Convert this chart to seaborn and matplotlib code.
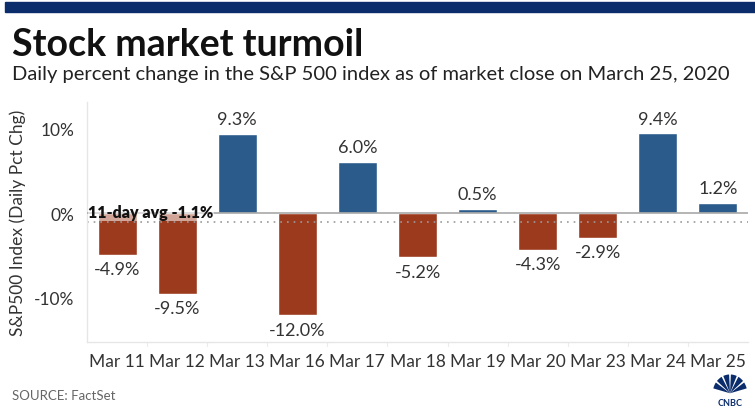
import matplotlib
matplotlib.use("Agg")
import matplotlib.pyplot as plt
import seaborn as sns
import pandas as pd
import numpy as np
from matplotlib.patches import Wedge, Rectangle

dates = ["Mar 11", "Mar 12", "Mar 13", "Mar 16", "Mar 17", "Mar 18",
         "Mar 19", "Mar 20", "Mar 23", "Mar 24", "Mar 25"]
changes = [-4.9, -9.5, 9.3, -12.0, 6.0, -5.2, 0.5, -4.3, -2.9, 9.4, 1.2]
avg_change = -1.1
y_ticks = [-10, 0, 10]
y_tick_labels = ["-10%", "0%", "10%"]

BLUE = "#2b5b8b"
RED = "#9c3a1e"
NAVY = "#0b2d6c"
TEXT = "#333333"

sns.set_theme(style="white")
plt.rcParams["font.family"] = ["Lato", "DejaVu Sans"]

df = pd.DataFrame({"date": dates, "change": changes})
df["sign"] = np.where(df["change"] >= 0, "up", "down")

fig = plt.figure(figsize=(7.55, 4.10), dpi=100)
ax = fig.add_axes([87 / 755, 1 - 343 / 410, (748 - 87) / 755, (343 - 103) / 410])

sns.barplot(data=df, x="date", y="change", hue="sign",
            palette={"up": BLUE, "down": RED}, dodge=False,
            width=0.65, legend=False, ax=ax, saturation=1)

ax.set_ylim(-15.2, 13.1)
ax.set_xlim(-0.5, len(dates) - 0.5)
ax.axhline(0, color="#a8a8a8", lw=1.2, zorder=3)
ax.axhline(avg_change, color="#9a9a9a", lw=1.2, ls=(0, (1, 3)), zorder=1)

for i, v in enumerate(changes):
    if v >= 0:
        ax.text(i, v + 0.8, f"{v:.1f}%", ha="center", va="bottom",
                fontsize=13, color=TEXT)
    else:
        ax.text(i, v - 0.8, f"{v:.1f}%", ha="center", va="top",
                fontsize=13, color=TEXT)

ax.text(-0.48, 0.1, f"11-day avg {avg_change:.1f}%", ha="left", va="center",
        fontsize=11.5, fontweight="heavy", color="#111111", zorder=5,
        bbox=dict(facecolor="white", alpha=0.55, edgecolor="none", pad=0.5))

ax.set_yticks(y_ticks)
ax.set_yticklabels(y_tick_labels, fontsize=12.5, color=TEXT)
ax.tick_params(axis="x", labelsize=12.5, labelcolor=TEXT, length=0, pad=8)
ax.tick_params(axis="y", length=0, pad=9)
ax.set_xlabel("")
ax.set_ylabel("S&P500 Index (Daily Pct Chg)", fontsize=12.5, color=TEXT, labelpad=6)

for s in ["top", "right"]:
    ax.spines[s].set_visible(False)
for s in ["left", "bottom"]:
    ax.spines[s].set_color("#e6e6e6")
    ax.spines[s].set_linewidth(1)

# separators below axis
for b in np.arange(0.5, len(dates) - 0.5, 1):
    ax.plot([b, b], [-15.2, -15.7], color="#ececec", lw=0.8, clip_on=False)

# header
fig.patches.append(Rectangle((5 / 755, 1 - 13 / 410), 750 / 755, 10 / 410,
                             transform=fig.transFigure, color=NAVY))
fig.text(12 / 755, 1 - 45 / 410, "Stock market turmoil", fontsize=27,
         fontweight="bold", color="#111111", va="center", ha="left")
fig.text(12 / 755, 1 - 75 / 410,
         "Daily percent change in the S&P 500 index as of market close on March 25, 2020",
         fontsize=14.5, color="#222222", va="center", ha="left")
fig.text(12 / 755, 1 - 396 / 410, "SOURCE: FactSet", fontsize=9.5,
         color="#666666", va="center", ha="left")

# CNBC-like logo
lax = fig.add_axes([712 / 755, 1 - 409 / 410, 36 / 755, 36 / 410])
lax.set_xlim(-1.2, 1.2)
lax.set_ylim(-0.9, 1.3)
lax.axis("off")
for k, ang in enumerate(np.linspace(25, 155, 6)):
    lax.add_patch(Wedge((0, 0), 1.15, ang - 10, ang + 10, color=NAVY, lw=0))
lax.text(0, -0.55, "CNBC", ha="center", va="center", fontsize=6.5,
         fontweight="bold", color=NAVY)

fig.savefig("out.png", dpi=100, facecolor="white")
